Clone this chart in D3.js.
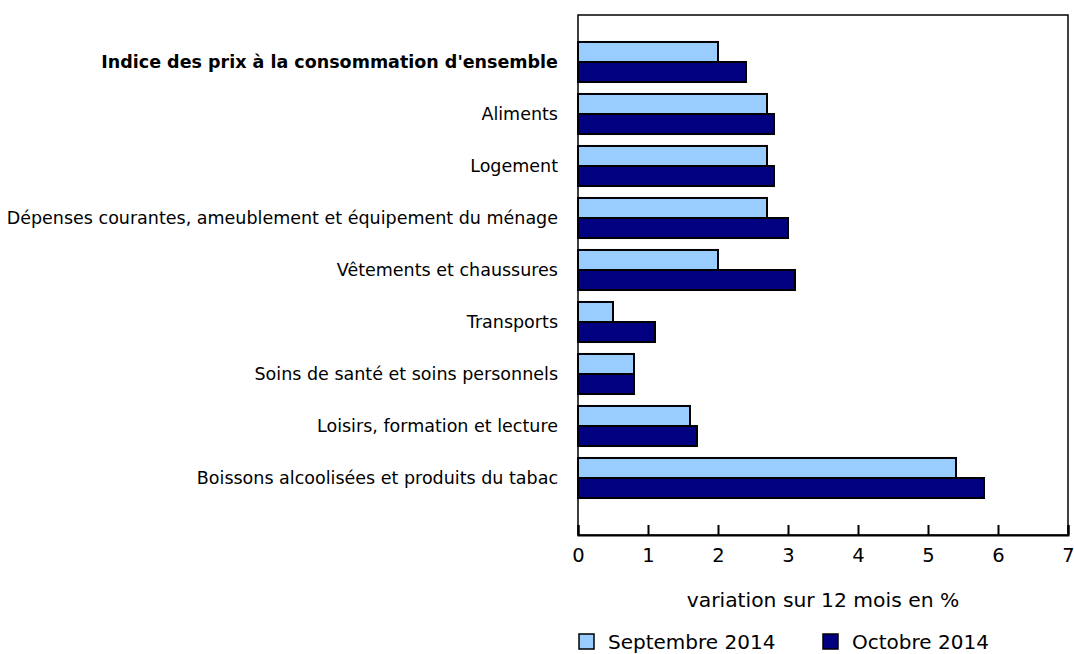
<!DOCTYPE html>
<html><head><meta charset="utf-8">
<script src="https://cdn.jsdelivr.net/npm/d3@7"></script>
<style>body{margin:0;background:#fff}svg{display:block}text{font-family:"DejaVu Sans",Verdana,sans-serif;fill:#000}</style>
</head><body>
<svg id="c" width="1074" height="654"></svg>
<script>
const categories = ["Indice des prix à la consommation d'ensemble","Aliments","Logement","Dépenses courantes, ameublement et équipement du ménage","Vêtements et chaussures","Transports","Soins de santé et soins personnels","Loisirs, formation et lecture","Boissons alcoolisées et produits du tabac"];
const sept2014 = [2.0,2.7,2.7,2.7,2.0,0.5,0.8,1.6,5.4];
const oct2014 = [2.4,2.8,2.8,3.0,3.1,1.1,0.8,1.7,5.8];
const seriesNames = ["Septembre 2014","Octobre 2014"];
const colors = ["#99ccff","#000080"];
const xTicks = [0,1,2,3,4,5,6,7];

const svg = d3.select("#c");
const L=578,R=1068,T=15,B=535;
const x = d3.scaleLinear().domain([0,7]).range([L,R]);
const y = d3.scaleBand().domain(categories).range([36,504]).paddingInner(0.23).paddingOuter(0.115);
const sub = d3.scaleBand().domain([0,1]).range([0,y.bandwidth()]);
const series=[sept2014,oct2014];

svg.append("rect").attr("x",L).attr("y",T).attr("width",R-L).attr("height",B-T).attr("fill","none").attr("stroke","#000").attr("stroke-width",1.5);

series.forEach((vals,si)=>{
  svg.append("g").selectAll("rect").data(categories).join("rect")
    .attr("x",x(0)).attr("y",d=>y(d)+sub(si))
    .attr("width",(d,i)=>x(vals[i])-x(0)).attr("height",sub.bandwidth())
    .attr("fill",colors[si]).attr("stroke","#000").attr("stroke-width",2);
});

const ax = svg.append("g").attr("transform",`translate(0,${B})`)
  .call(d3.axisBottom(x).tickValues(xTicks).tickSize(-10).tickPadding(13).tickFormat(d3.format("d")));
ax.select(".domain").attr("stroke","#000").attr("stroke-width",2);
ax.selectAll(".tick line").attr("stroke","#000").attr("stroke-width",2);
ax.selectAll(".tick text").style("font-size","19.5px").attr("font-family","DejaVu Sans").attr("dy","0.71em");

svg.append("g").selectAll("text").data(categories).join("text")
  .attr("x",558).attr("y",d=>y(d)+y.bandwidth()/2).attr("dy","0.35em")
  .attr("text-anchor","end").style("font-size","17.5px")
  .style("font-weight",(d,i)=>i===0?"bold":"normal").text(d=>d);

svg.append("text").attr("x",823).attr("y",607).attr("text-anchor","middle").style("font-size","20.3px").text("variation sur 12 mois en %");

const legX=[579,823];
seriesNames.forEach((n,i)=>{
  svg.append("rect").attr("x",legX[i]).attr("y",634).attr("width",15).attr("height",15).attr("fill",colors[i]).attr("stroke","#000").attr("stroke-width",1.5);
  svg.append("text").attr("x",legX[i]+29).attr("y",649).style("font-size","20px").text(n);
});
</script>
</body></html>
